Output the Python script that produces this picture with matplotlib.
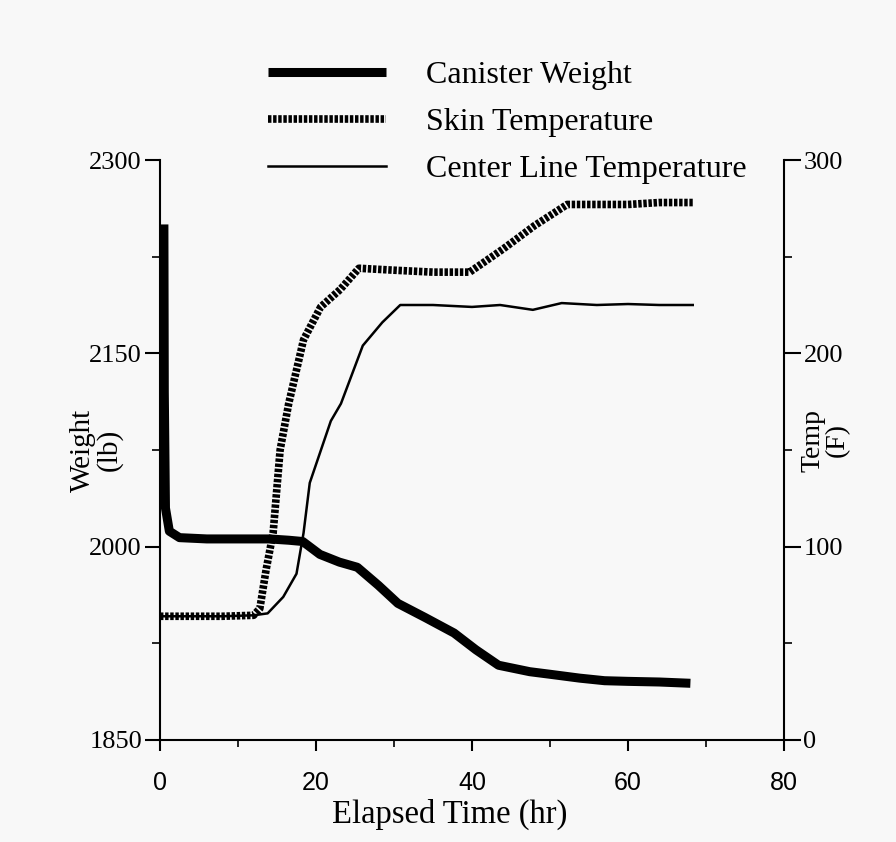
import matplotlib.pyplot as plt
from matplotlib.ticker import MultipleLocator, FixedLocator

# canister weight (lb) vs elapsed time (hr)
time_w = [0.5, 0.55, 0.7, 1.2, 2.5, 6, 10, 14, 16.5, 18.3, 20.5, 23, 25.3, 28, 30.5, 34, 37.7, 40.5, 43.4, 47.4, 50, 53.8, 57, 60, 64, 68]
weight = [2250, 2120, 2030, 2012, 2007, 2006, 2006, 2006, 2005, 2004, 1994, 1988, 1984, 1970, 1956, 1945, 1933, 1920, 1908, 1903, 1901, 1898, 1896, 1895.5, 1895, 1894]

# skin temperature (F)
time_s = [0, 4, 8, 12, 12.8, 13.6, 14.5, 15.4, 16.5, 18.4, 20.6, 23.1, 25.5, 30, 35, 39.7, 44, 48, 52.2, 56, 60, 64, 68.3]
skin = [64, 64, 64, 64.5, 68, 88, 107, 150, 174, 207, 224, 233, 244, 243, 242, 242, 254, 266, 277, 277, 277, 278, 278]

# center line temperature (F)
time_c = [0, 4, 8, 12, 13.8, 15.8, 17.5, 18.4, 19.2, 21.9, 23.2, 26, 28.5, 30.8, 35, 40, 43.6, 47.8, 51.5, 56, 60, 64, 68.3]
center = [64, 64, 64, 64.5, 65.5, 74, 86, 107, 133, 165, 174, 204, 216, 225, 225, 224, 225, 222.5, 226, 225, 225.5, 225, 225]

weight_ticks = [1850, 2000, 2150, 2300]
weight_minor = [1925, 2075, 2225]

serif = 'Liberation Serif'
sans = 'Liberation Sans'
bg = '#f8f8f8'

fig = plt.figure(figsize=(8.96, 8.42), dpi=100, facecolor=bg)
ax = fig.add_axes([160/896, 102/842, 624/896, 580/842])
ax.set_facecolor(bg)
ax2 = ax.twinx()

l1, = ax.plot(time_w, weight, color='black', lw=6.5, solid_capstyle='butt',
              solid_joinstyle='round', label='Canister Weight')
l2, = ax2.plot(time_s, skin, color='black', lw=5.5, linestyle=(0, (0.45, 0.22)),
               dash_capstyle='butt', label='Skin Temperature')
l3, = ax2.plot(time_c, center, color='black', lw=1.8, label='Center Line Temperature')

ax.set_xlim(0, 80)
ax.set_ylim(1850, 2300)
ax2.set_ylim(0, 300)

ax.xaxis.set_major_locator(MultipleLocator(20))
ax.xaxis.set_minor_locator(MultipleLocator(10))
ax.yaxis.set_major_locator(FixedLocator(weight_ticks))
ax.yaxis.set_minor_locator(FixedLocator(weight_minor))
ax2.yaxis.set_major_locator(MultipleLocator(100))
ax2.yaxis.set_minor_locator(MultipleLocator(50))

for a in (ax, ax2):
    a.spines['top'].set_visible(False)
    for s in ('left', 'right', 'bottom'):
        a.spines[s].set_linewidth(1.5)
ax.spines['right'].set_visible(False)
ax2.spines['left'].set_visible(False)
ax2.spines['bottom'].set_visible(False)

ax.tick_params(axis='x', which='major', direction='out', length=8, width=1.5, pad=14,
               labelsize=18)
ax.tick_params(axis='x', which='minor', direction='out', length=5, width=1.2)
ax.tick_params(axis='y', which='major', direction='out', length=11, width=1.5, pad=2,
               labelsize=19)
ax.tick_params(axis='y', which='minor', direction='out', length=6, width=1.2)
ax2.tick_params(axis='y', which='major', direction='out', length=12, width=1.5, pad=2,
                labelsize=19)
ax2.tick_params(axis='y', which='minor', direction='out', length=6, width=1.2)

for t in ax.get_xticklabels():
    t.set_fontfamily(sans)
for t in ax.get_yticklabels() + ax2.get_yticklabels():
    t.set_fontfamily(serif)

ax.set_xlabel('Elapsed Time (hr)', fontfamily=serif, fontsize=23.5)
ax.xaxis.set_label_coords(0.465, -0.101)
ax.set_ylabel('Weight\n(lb)', fontfamily=serif, fontsize=21, linespacing=0.95)
ax2.set_ylabel('Temp\n(F)', fontfamily=serif, fontsize=20, linespacing=0.95)
ax.yaxis.set_label_coords(-0.102, 0.5)
ax2.yaxis.set_label_coords(1.066, 0.517)
ax.yaxis.label.set_va('center')
ax2.yaxis.label.set_va('center')

leg = ax2.legend(handles=[l1, l2, l3], loc='upper left',
                 bbox_to_anchor=(268/896, 1 - 61/842), bbox_transform=fig.transFigure,
                 frameon=False, prop={'family': serif, 'size': 23},
                 handlelength=3.7, handletextpad=1.25, labelspacing=0.55,
                 borderpad=0, borderaxespad=0)

fig.savefig('out.png', dpi=100, facecolor=bg)
